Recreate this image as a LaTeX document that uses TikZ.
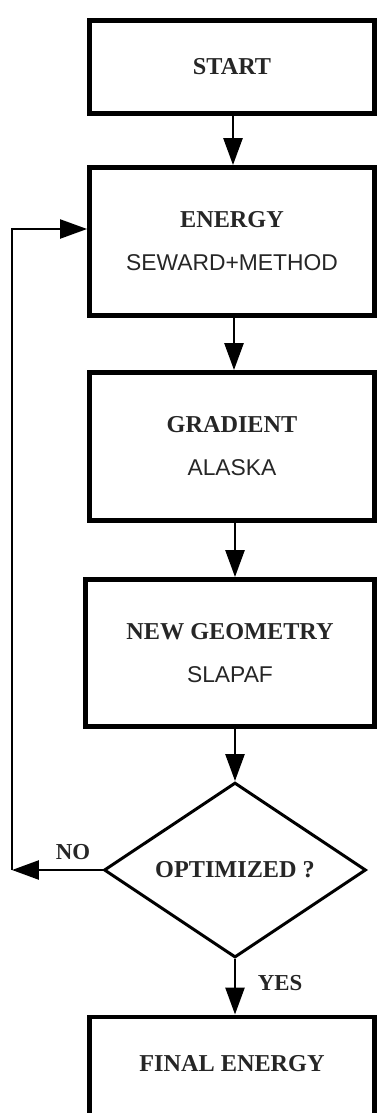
\documentclass[tikz,border=0pt]{standalone}
\usepackage{fontspec}
\setmainfont{Liberation Serif}
\setsansfont{Liberation Sans}
\usepackage{tikz}
\usetikzlibrary{arrows.meta,shapes.geometric}

\tikzset{
  stepbox/.style={draw, line width=2.8pt, minimum width=5.7cm, minimum height=2.96cm,
    align=center, text=black!85, font=\fontsize{13.8}{24.5}\selectfont},
  choice/.style={draw, shape=diamond, aspect=1.5, line width=1.7pt, inner sep=0pt,
    minimum width=5.24cm, minimum height=3.5cm, text=black!85,
    font=\fontsize{13.8}{16}\selectfont\bfseries},
  conn/.style={line width=1.5pt, -{Triangle[length=0.54cm, width=0.38cm]}},
  tag/.style={text=black!85, font=\fontsize{13}{15}\selectfont\bfseries},
}
\newcommand{\sub}[1]{\textsf{\fontsize{13}{24.5}\selectfont #1}}

\begin{document}
\begin{tikzpicture}[x=0.02cm, y=-0.02cm]
  % picture is measured in pixels of the original: x right, y down
  \useasboundingbox (0,0) rectangle (379,1113);

  % the steps
  \node[stepbox, minimum height=1.86cm] (start) at (232,67) {\textbf{START}};
  \node[stepbox] (energy) at (232,241.5) {\textbf{ENERGY}\\\sub{SEWARD+METHOD}};
  \node[stepbox] (grad) at (232,446.5) {\textbf{GRADIENT}\\\sub{ALASKA}};
  \node[stepbox, minimum width=5.78cm, minimum height=2.94cm] (geom) at (230,653)
    {\textbf{NEW GEOMETRY}\\\sub{SLAPAF}};
  \node[choice] (opt) at (235,870) {OPTIMIZED ?};
  % last box runs off the bottom of the page
  \node[stepbox, anchor=north, minimum height=0pt, text height=0.98cm, text depth=1.5cm]
    (final) at (232,1014.5) {\textbf{FINAL ENERGY}};

  % branch labels
  \node[tag] (no) at (73,852) {NO};
  \node[tag] (yes) at (280,983) {YES};

  % loop back corners
  \coordinate (loopdn) at (12,870);
  \coordinate (loopup) at (12,229);

  % connectors
  \draw[conn] (start.south -| 233,0) -- (energy.north -| 233,0);
  \draw[conn] (energy.south -| 234,0) -- (grad.north -| 234,0);
  \draw[conn] (grad.south -| 235,0) -- (geom.north -| 235,0);
  \draw[conn] (geom.south -| opt.north) -- (opt.north);
  \draw[conn] (opt.south) -- (opt.south |- final.north);
  \draw[conn] (opt.west) -- (loopdn);
  \draw[conn, line width=1.3pt] (loopdn) -- (loopup) -- (loopup -| energy.west);
\end{tikzpicture}
\end{document}
